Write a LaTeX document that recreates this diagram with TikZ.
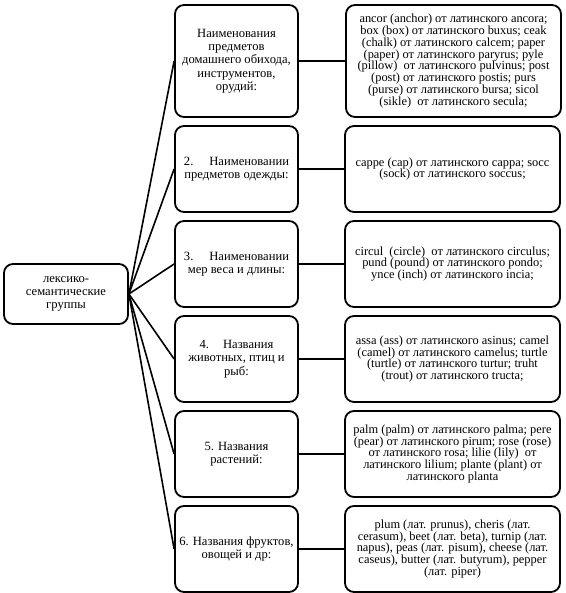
\documentclass[tikz,border=0pt]{standalone}
\usepackage{fontspec}
\setmainfont{Liberation Serif}
\tikzset{
  grp/.style={draw, line width=1.8pt, rounded corners=9pt, align=center, inner sep=1pt},
  mid/.style={grp, minimum width=123pt, minimum height=86pt, font=\fontsize{12.6}{13.3}\selectfont},
  lat/.style={grp, minimum width=215pt, minimum height=86pt, font=\fontsize{12.4}{11.8}\selectfont},
  link/.style={line width=1.6pt}
}
\begin{document}
\begin{tikzpicture}[x=1pt,y=-1pt]
\useasboundingbox (0,0) rectangle (565,593);
% root
\node[grp, minimum width=124pt, minimum height=60pt, font=\fontsize{12.6}{13.3}\selectfont] (root) at (66,294)
  {лексико-\\семантические\\группы};
% groups
\node[mid, minimum height=112pt] (g1) at (236.5,61)
  {Наименования\\предметов\\домашнего обихода,\\инструментов,\\орудий:};
\node[mid] (g2) at (236.5,169) {2.\hspace{16pt}Наименовании\\предметов одежды:};
\node[mid] (g3) at (236.5,264) {3.\hspace{16pt}Наименовании\\мер веса и длины:};
\node[mid] (g4) at (236.5,359) {4.\hspace{14pt}Названия\\животных, птиц и\\рыб:};
\node[mid] (g5) at (236.5,454) {5.\hspace{4pt}Названия\\растений:};
\node[mid] (g6) at (236.5,549) {6.\hspace{4pt}Названия фруктов,\\овощей и др:};
% words
\node[lat, minimum height=112pt] (w1) at (453.5,61)
  {ancor (anchor) от латинского ancora;\\box (box) от латинского buxus; ceak\\(chalk) от латинского calcem; paper\\(paper) от латинского paryrus; pyle\\(pillow)\ \ от латинского pulvinus; post\\(post) от латинского postis; purs\\(purse) от латинского bursa; sicol\\(sikle)\ \ от латинского secula;};
\node[lat] (w2) at (452.5,169)
  {cappe (cap) от латинского cappa; socc\\(sock) от латинского soccus;};
\node[lat] (w3) at (452.5,264)
  {circul\ \ (circle)\ \ от латинского circulus;\\pund (pound) от латинского pondo;\\ynce (inch) от латинского incia;};
\node[lat] (w4) at (452.5,359)
  {assa (ass) от латинского asinus; camel\\(camel) от латинского camelus; turtle\\(turtle) от латинского turtur; truht\\(trout) от латинского tructa;};
\node[lat] (w5) at (452.5,454)
  {palm (palm) от латинского palma; pere\\(pear) от латинского pirum; rose (rose)\\от латинского rosa; lilie (lily)\ \ от\\латинского lilium; plante (plant) от\\латинского planta};
\node[lat] (w6) at (452.5,549)
  {plum (лат. prunus), cheris (лат.\\cerasum), beet (лат. beta), turnip (лат.\\napus), peas (лат. pisum), cheese (лат.\\caseus), butter (лат. butyrum), pepper\\(лат. piper)};
% links
\foreach \i in {1,...,6} {
  \draw[link] (root.east) -- (g\i.west);
  \draw[link] (g\i.east) -- (w\i.west);
}
\end{tikzpicture}
\end{document}
